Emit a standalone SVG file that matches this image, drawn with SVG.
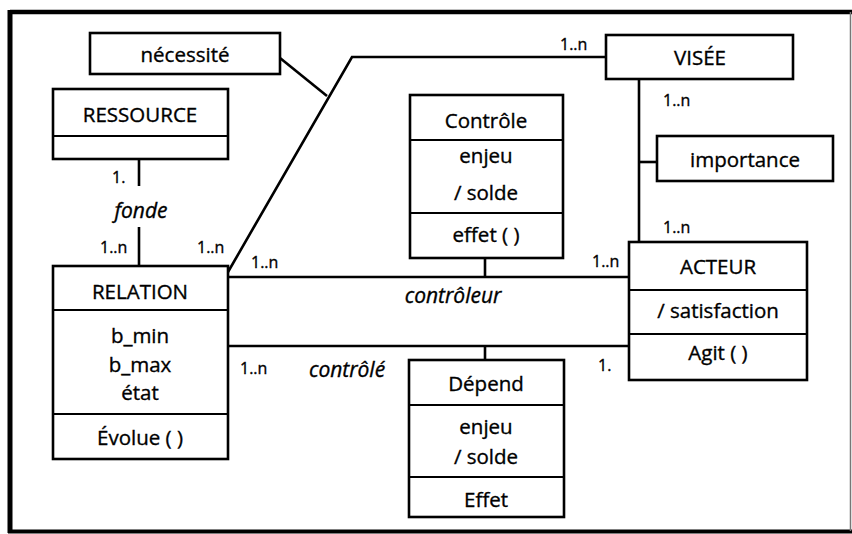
<svg xmlns="http://www.w3.org/2000/svg" width="852" height="534" viewBox="0 0 852 534">
<style>
.box{fill:#fff;stroke:#000;stroke-width:2.6}
.div{stroke:#000;stroke-width:2}
.ln{stroke:#000;stroke-width:2.6;fill:none}
text{font-family:"Open Sans","Noto Sans","DejaVu Sans",sans-serif;fill:#000;stroke:#000;stroke-width:0.35}
.t{font-size:20.5px;text-anchor:middle}
.i{font-size:21px;font-style:italic;text-anchor:middle}
.m{font-size:16px}
</style>
<rect x="0" y="0" width="852" height="534" fill="#fff"/>
<g id="frame">
<line x1="10" y1="12" x2="852" y2="12" stroke="#000" stroke-width="4.5"/>
<line x1="10" y1="10" x2="10" y2="533" stroke="#000" stroke-width="5"/>
<line x1="8" y1="531.5" x2="852" y2="531.5" stroke="#000" stroke-width="4"/>
<line x1="850.5" y1="12" x2="850.5" y2="531" stroke="#777" stroke-width="1.5"/>
</g>
<g id="connectors">
<line class="ln" x1="139" y1="158" x2="139" y2="186"/>
<line class="ln" x1="139" y1="227" x2="139" y2="266"/>
<polyline class="ln" points="228,272 352,57 606,57"/>
<line class="ln" x1="280" y1="58" x2="327" y2="96"/>
<line class="ln" x1="639" y1="79" x2="639" y2="241"/>
<line class="ln" x1="639" y1="162" x2="657" y2="162"/>
<line class="ln" x1="228" y1="277" x2="629" y2="277"/>
<line class="ln" x1="485" y1="258" x2="485" y2="277"/>
<line class="ln" x1="228" y1="346" x2="629" y2="346"/>
<line class="ln" x1="485" y1="346" x2="485" y2="360"/>
<text class="m" x="112" y="183">1.</text>
<text class="i" x="141" y="218">fonde</text>
<text class="m" x="100" y="253">1..n</text>
<text class="m" x="197" y="253">1..n</text>
<text class="m" x="251" y="268">1..n</text>
<text class="m" x="560" y="50">1..n</text>
<text class="m" x="663" y="106">1..n</text>
<text class="m" x="663" y="233">1..n</text>
<text class="m" x="592" y="267">1..n</text>
<text class="i" x="453" y="303">contrôleur</text>
<text class="m" x="240" y="374">1..n</text>
<text class="i" x="347" y="377">contrôlé</text>
<text class="m" x="598" y="371">1.</text>
</g>
<g id="necessite">
<rect class="box" x="90" y="33" width="190" height="41"/>
<text class="t" x="185" y="62">nécessité</text>
</g>
<g id="ressource">
<rect class="box" x="53" y="89" width="175" height="70"/>
<line class="div" x1="53" y1="136" x2="228" y2="136"/>
<text class="t" x="140" y="122">RESSOURCE</text>
</g>
<g id="visee">
<rect class="box" x="606" y="35" width="187" height="44"/>
<text class="t" x="700" y="65">VISÉE</text>
</g>
<g id="importance">
<rect class="box" x="657" y="136" width="176" height="45"/>
<text class="t" x="745" y="167">importance</text>
</g>
<g id="controle">
<rect class="box" x="410" y="95" width="153" height="163"/>
<line class="div" x1="410" y1="140" x2="563" y2="140"/>
<line class="div" x1="410" y1="213" x2="563" y2="213"/>
<text class="t" x="486" y="128">Contrôle</text>
<text class="t" x="486" y="163">enjeu</text>
<text class="t" x="486" y="200">/ solde</text>
<text class="t" x="486" y="242">effet ( )</text>
</g>
<g id="acteur">
<rect class="box" x="629" y="242" width="178" height="138"/>
<line class="div" x1="629" y1="290" x2="807" y2="290"/>
<line class="div" x1="629" y1="334" x2="807" y2="334"/>
<text class="t" x="718" y="274">ACTEUR</text>
<text class="t" x="718" y="318">/ satisfaction</text>
<text class="t" x="718" y="360">Agit ( )</text>
</g>
<g id="relation">
<rect class="box" x="53" y="266" width="175" height="193"/>
<line class="div" x1="53" y1="310" x2="228" y2="310"/>
<line class="div" x1="53" y1="414" x2="228" y2="414"/>
<text class="t" x="140" y="299">RELATION</text>
<text class="t" x="140" y="343">b_min</text>
<text class="t" x="140" y="372">b_max</text>
<text class="t" x="140" y="400">état</text>
<text class="t" x="140" y="445">Évolue ( )</text>
</g>
<g id="depend">
<rect class="box" x="409" y="360" width="155" height="157"/>
<line class="div" x1="409" y1="405" x2="564" y2="405"/>
<line class="div" x1="409" y1="477" x2="564" y2="477"/>
<text class="t" x="486" y="391">Dépend</text>
<text class="t" x="486" y="434">enjeu</text>
<text class="t" x="486" y="464">/ solde</text>
<text class="t" x="486" y="507">Effet</text>
</g>
</svg>
